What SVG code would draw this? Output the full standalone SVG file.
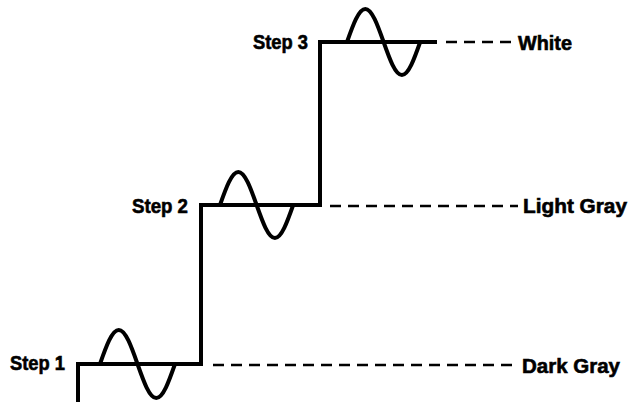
<svg xmlns="http://www.w3.org/2000/svg" width="631" height="407" viewBox="0 0 631 407">
<style>
.ln{fill:none;stroke:#000;stroke-width:4;stroke-linejoin:miter;stroke-linecap:butt}
.wv{fill:none;stroke:#000;stroke-width:4;stroke-linecap:round}
.ds{fill:none;stroke:#000;stroke-width:2.5;stroke-dasharray:11 7}
.t{font-family:"Liberation Sans",Arial,sans-serif;font-weight:bold;font-size:20.5px;fill:#000;stroke:#000;stroke-width:0.6}
</style>
<rect width="631" height="407" fill="#fff"/>
<g id="staircase">
<path class="ln" d="M78,402 V364 H201 V205 H320 V42 H437"/>
</g>
<g id="step1">
<path class="wv" d="M100,364 C106.11,346.58 111.96,330 118.75,330 C125.54,330 131.39,346.58 137.5,364 C143.61,381.42 149.46,398 156.25,398 C163.04,398 168.89,381.42 175,364"/>
<text class="t" x="10" y="370" textLength="55" lengthAdjust="spacingAndGlyphs">Step 1</text>
</g>
<g id="step2">
<path class="wv" d="M220,205 C225.97,188.09 231.68,172 238.3,172 C244.92,172 250.63,188.09 256.6,205 C262.57,221.91 268.28,238 274.9,238 C281.52,238 287.23,221.91 293.2,205"/>
<text class="t" x="132" y="213" textLength="56" lengthAdjust="spacingAndGlyphs">Step 2</text>
</g>
<g id="step3">
<path class="wv" d="M347,42 C352.97,25.09 358.68,9 365.3,9 C371.92,9 377.63,25.09 383.6,42 C389.57,58.91 395.28,75 401.9,75 C408.52,75 414.23,58.91 420.2,42"/>
<text class="t" x="253" y="49" textLength="55" lengthAdjust="spacingAndGlyphs">Step 3</text>
</g>
<g id="connectors">
<line class="ds" x1="213" y1="365" x2="517" y2="365"/>
<line class="ds" x1="330" y1="206" x2="518" y2="206"/>
<line class="ds" x1="446" y1="42" x2="514" y2="42"/>
</g>
<g id="white"><text class="t" x="518" y="50" textLength="54" lengthAdjust="spacingAndGlyphs">White</text></g>
<g id="lightgray"><text class="t" x="523" y="213" textLength="104" lengthAdjust="spacingAndGlyphs">Light Gray</text></g>
<g id="darkgray"><text class="t" x="522" y="373" textLength="98" lengthAdjust="spacingAndGlyphs">Dark Gray</text></g>
</svg>
